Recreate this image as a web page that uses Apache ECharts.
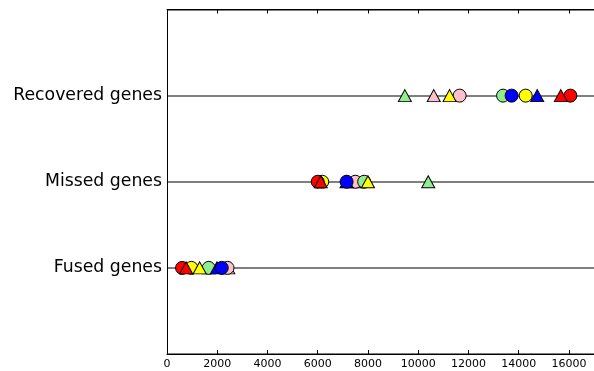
<!DOCTYPE html>
<html>
<head>
<meta charset="utf-8">
<script src="https://cdn.jsdelivr.net/npm/echarts@6/dist/echarts.min.js"></script>
<style>
html,body{margin:0;padding:0;background:#fff;}
#c{width:594px;height:371px;}
</style>
</head>
<body>
<div id="c"></div>
<script>
// categories (y positions 1,2,3)
var categories = ['Fused genes', 'Missed genes', 'Recovered genes'];
var xTicks = [0, 2000, 4000, 6000, 8000, 10000, 12000, 14000, 16000];

// values per marker: [Fused, Missed, Recovered]
var pinkTri      = [2440, 7480, 10620];
var pinkCircle   = [2410, 7500, 11650];
var greenTri     = [1660, 10400, 9470];
var greenCircle  = [1660, 7850, 13380];
var yellowCircle = [970, 6180, 14280];
var yellowTri    = [1300, 8000, 11250];
var blueTri      = [1990, 7150, 14740];
var blueCircle   = [2180, 7150, 13720];
var redCircle    = [600, 6000, 16060];
var redTri       = [760, 6120, 15680];

var markers = [
  {d: pinkTri, c: '#ffc0cb', s: 'triangle'},
  {d: pinkCircle, c: '#ffc0cb', s: 'circle'},
  {d: greenTri, c: '#90ee90', s: 'triangle'},
  {d: greenCircle, c: '#90ee90', s: 'circle'},
  {d: yellowCircle, c: '#ffff00', s: 'circle'},
  {d: yellowTri, c: '#ffff00', s: 'triangle'},
  {d: blueTri, c: '#0000ff', s: 'triangle'},
  {d: blueCircle, c: '#0000ff', s: 'circle'},
  {d: redCircle, c: '#ff0000', s: 'circle'},
  {d: redTri, c: '#ff0000', s: 'triangle'}
];

var series = markers.map(function (m) {
  return {
    type: 'scatter',
    symbol: m.s,
    symbolSize: m.s === 'circle' ? 13 : [13, 12],
    itemStyle: {color: m.c, borderColor: '#000', borderWidth: 1, opacity: 1},
    data: m.d.map(function (v, i) { return [v, i + 1]; }),
    emphasis: {disabled: true},
    animation: false
  };
});

var font = 'DejaVu Sans';
var chart = echarts.init(document.getElementById('c'), null, {renderer: 'canvas'});
chart.setOption({
  animation: false,
  backgroundColor: '#fff',
  grid: {left: 167, top: 9.5, width: 429, height: 344.5},
  xAxis: [{
    type: 'value', min: 0, max: 17000, interval: 2000, position: 'bottom',
    axisLine: {show: true, lineStyle: {color: '#000', width: 1}},
    axisTick: {show: true, inside: true, length: 4, lineStyle: {color: '#000'}},
    axisLabel: {
      show: true, showMaxLabel: false, color: '#000', fontFamily: font, fontSize: 11, margin: 5,
      formatter: function (v) { return xTicks.indexOf(v) >= 0 ? String(v) : ''; }
    },
    splitLine: {show: false}
  }, {
    type: 'value', min: 0, max: 17000, interval: 2000, position: 'top',
    axisLine: {show: true, lineStyle: {color: '#000', width: 1}},
    axisTick: {show: true, inside: true, length: 4, lineStyle: {color: '#000'}},
    axisLabel: {show: false},
    splitLine: {show: false}
  }],
  yAxis: {
    type: 'value', min: 0, max: 4, interval: 1,
    axisLine: {show: true, lineStyle: {color: '#000', width: 1}},
    axisTick: {show: false},
    axisLabel: {
      color: '#000', fontFamily: font, fontSize: 17.3, margin: 5,
      formatter: function (v) { return (v >= 1 && v <= 3) ? categories[v - 1] : ''; }
    },
    splitLine: {show: true, lineStyle: {color: '#555', width: 1.5}}
  },
  series: series
});
</script>
</body>
</html>
